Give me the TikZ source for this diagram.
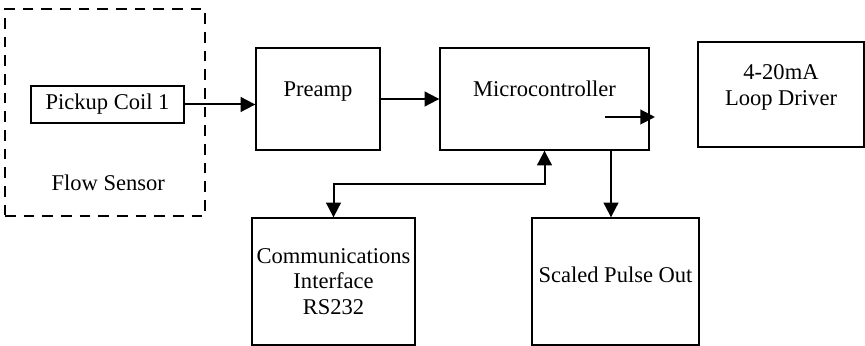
\documentclass[tikz,border=0pt]{standalone}
\usepackage{fontspec}
\setmainfont{Liberation Serif}
\usetikzlibrary{arrows.meta,calc}
\tikzset{main base/.style={draw,line width=1pt,text centered,inner sep=2pt,font=\fontsize{16.9}{19.2}\selectfont}, }
\tikzset{main node/.style={rectangle,main base,align=center}, }
\tikzset{main node2/.style={main node,text height=12pt,text depth=#1}, }
\tikzset{main node2/.default=16pt}
\tikzset{dashed box/.style={rectangle,draw,dash pattern=on 8pt off 6pt,line width=1.5pt}, }
\tikzset{linea/.style={-{Triangle[length=11pt,width=11pt]},line width=1.5pt,draw}}
\tikzset{linea2/.style={{Triangle[length=11pt,width=11pt]}-{Triangle[length=11pt,width=11pt]},line width=1.5pt,draw}}
\begin{document}
\begin{tikzpicture}[x=0.75pt,y=-0.75pt]
 \useasboundingbox (0,0) rectangle (865,346);
 %
 \node[dashed box,minimum width=150pt,minimum height=155.25pt,
   label={[anchor=base,xshift=2.5pt,yshift=19.9pt,font=\fontsize{16.9}{19.2}\selectfont]south:Flow Sensor}] (1) at (105,112.5) {};
 \node[main node,minimum width=114.75pt,minimum height=27.75pt] (2) at (107.5,104.5) {Pickup Coil 1};
 \node[main node2,minimum width=93pt,minimum height=76.5pt] (3) at (318,99) {Preamp};
 \node[main node2,minimum width=156.75pt,minimum height=76.5pt] (4) at (544.5,99) {Microcontroller};
 \node[main node,text depth=14pt,minimum width=124.5pt,minimum height=78.75pt,
   font=\fontsize{16.9}{19.5}\selectfont] (5) at (781,94.5) {4-20mA\\Loop Driver};
 \node[main node,minimum width=122.25pt,minimum height=95.25pt] (6) at (333.5,281.5) {Communications\\Interface\\RS232};
 \node[main node2=10pt,minimum width=125.25pt,minimum height=95.25pt] (7) at (615.5,281.5) {Scaled Pulse Out};
 %
 \coordinate (mc in) at (605,117);
 \coordinate (mc out) at (655,117);
 \coordinate (tap) at (611,150);
 %
 \path[linea] (2.east) -- (2.east -| 3.west);
 \path[linea] (3.east) -- (4.west);
 \path[linea] (mc in) -- (mc out);
 \path[linea] (tap) -- (tap |- 7.north);
 \path[linea2] (4.south) -- ++(0,33) -| (6.north);
 %
\end{tikzpicture}
\end{document}
